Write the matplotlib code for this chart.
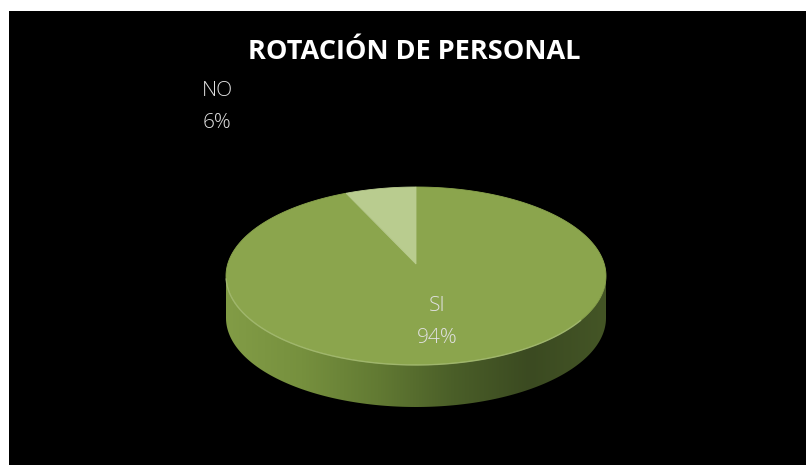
import numpy as np
import matplotlib.pyplot as plt
from matplotlib.patches import Polygon, Rectangle
from matplotlib.colors import LinearSegmentedColormap

# Survey answers
labels = ['SI', 'NO']
values = [94, 6]
top_colors = ['#8ba54d', '#b9cc8f']

title = 'ROTACIÓN DE PERSONAL'

W, H = 806, 465
fig = plt.figure(figsize=(W / 100, H / 100), dpi=100, facecolor='white')
ax = fig.add_axes([0, 0, 1, 1])
ax.set_xlim(0, W)
ax.set_ylim(H, 0)
ax.axis('off')

# black chart area
ax.add_patch(Rectangle((9, 11), W - 9, H - 11, facecolor='black', edgecolor='none'))

# pie geometry (pixels): ellipse of the top face, apex, thickness
cx, cy = 416, 276
a, b = 190, 89
apex = (416, 264)
depth = 42


def pt(theta_deg, dy=0.0):
    t = np.radians(theta_deg)
    return cx + a * np.cos(t), cy - b * np.sin(t) + dy


# front wall of the cylinder with a left-to-right shading
t = np.linspace(180, 360, 200)
top_edge = np.array([pt(v) for v in t])
bot_edge = np.array([pt(v, depth) for v in t[::-1]])
side = Polygon(np.vstack([top_edge, bot_edge]), closed=True,
               facecolor='none', edgecolor='none')
ax.add_patch(side)
side_cmap = LinearSegmentedColormap.from_list(
    'side', ['#829c46', '#76903e', '#627a33', '#4a5e28', '#3b4a21', '#445526'])
grad = np.linspace(0, 1, 256).reshape(1, -1)
img = ax.imshow(grad, cmap=side_cmap, aspect='auto',
                extent=[cx - a, cx + a, cy + b + depth, cy - b], zorder=2)
img.set_clip_path(side)

# top face slices, clockwise from 12 o'clock
total = sum(values)
start = 90.0
for lab, val, col in zip(labels, values, top_colors):
    sweep = 360.0 * val / total
    th = np.linspace(start, start - sweep, 300)
    arc = np.array([pt(v) for v in th])
    poly = np.vstack([[apex], arc])
    ax.add_patch(Polygon(poly, closed=True, facecolor=col,
                         edgecolor=col, linewidth=0.6, zorder=3))
    start -= sweep

# faint rim highlight along the front edge of the top face
rim = np.array([pt(v) for v in np.linspace(182, 330, 200)])
ax.plot(rim[:, 0], rim[:, 1], color='#b4c986', lw=1.0, alpha=0.6, zorder=4)

# title and labels
ax.text(414, 52, title, ha='center', va='center', color='white',
        fontsize=19.5, fontweight='bold', family='Open Sans', zorder=5)

lab_font = dict(color='#e0e0e0', fontsize=15, family='Open Sans',
                fontweight='light', ha='center', va='center', zorder=5,
                linespacing=1.75)
ax.text(437, 322, f'{labels[0]}\n{values[0]}%', **lab_font)
ax.text(217, 107, f'{labels[1]}\n{values[1]}%', **lab_font)

fig.savefig('out.png', dpi=100, facecolor='white')
